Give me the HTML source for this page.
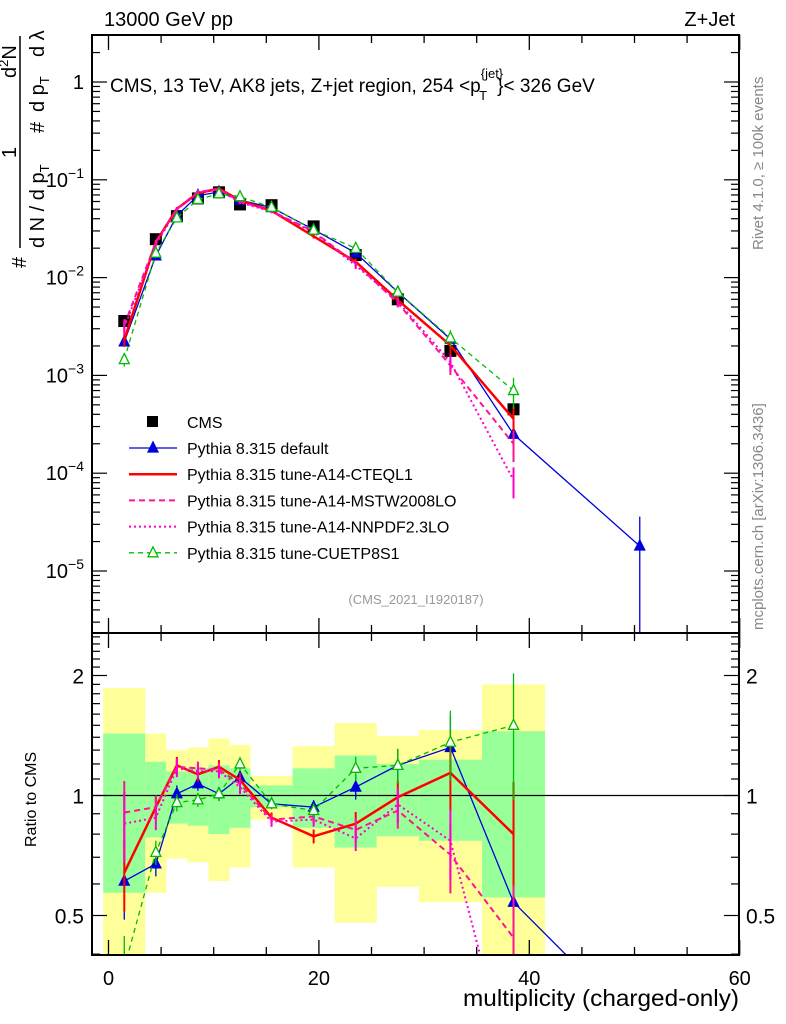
<!DOCTYPE html>
<html><head><meta charset="utf-8"><style>
html,body{margin:0;padding:0;background:#fff;overflow:hidden;width:786px;height:1024px;}
svg{display:block;font-family:"Liberation Sans",sans-serif;}
</style></head><body>
<svg id="chart" width="786" height="1024" viewBox="0 0 786 1024" xmlns="http://www.w3.org/2000/svg">
<defs>
<clipPath id="clipMain"><rect x="92" y="35" width="647" height="598"/></clipPath>
<clipPath id="clipRatio"><rect x="92" y="633" width="647" height="322"/></clipPath>
</defs>
<text x="104" y="26" font-size="20">13000 GeV pp</text>
<text x="735" y="26" font-size="20" text-anchor="end">Z+Jet</text>
<g id="mainG"></g>
<g id="ratioG"></g>
<g id="axesG"></g>
<text x="110" y="92" font-size="19">CMS, 13 TeV, AK8 jets, Z+jet region, 254 &lt;p<tspan font-size="13" dy="-14">{jet}</tspan><tspan font-size="13" dx="-24" dy="22">T</tspan><tspan dy="-8" dx="10">}&lt; 326 GeV</tspan></text>
<g>
  <line x1="20" y1="36" x2="20" y2="248" stroke="#000" stroke-width="1.5"/>
  <text transform="translate(16,78) rotate(-90)" font-size="20">d<tspan font-size="13" dy="-8">2</tspan><tspan dy="8">N</tspan></text>
  <text transform="translate(16,158) rotate(-90)" font-size="20">1</text>
  <text transform="translate(26,268) rotate(-90)" font-size="20">#</text>
  <text transform="translate(44,57) rotate(-90)" font-size="20">d λ</text>
  <text transform="translate(44,112) rotate(-90)" font-size="20">d p<tspan font-size="13" dy="5">T</tspan></text>
  <text transform="translate(44,133) rotate(-90)" font-size="20">#</text>
  <text transform="translate(44,248) rotate(-90)" font-size="20">d N / d p<tspan font-size="13" dy="5">T</tspan></text>
</g>
<text transform="translate(36,847) rotate(-90)" font-size="16">Ratio to CMS</text>
<text x="739" y="1006" font-size="23" text-anchor="end" textLength="276" lengthAdjust="spacingAndGlyphs">multiplicity (charged-only)</text>
<text transform="translate(763,250) rotate(-90)" font-size="15" fill="#888">Rivet 4.1.0, ≥ 100k events</text>
<text transform="translate(763,630) rotate(-90)" font-size="15" fill="#888">mcplots.cern.ch [arXiv:1306.3436]</text>
<text x="416" y="604" font-size="13" fill="#999" text-anchor="middle">(CMS_2021_I1920187)</text>
<g id="legendG"></g>
</svg>
<script>
const xs = [1.5,4.5,6.5,8.5,10.5,12.5,15.5,19.5,23.5,27.5,32.5,38.5,50.5];
const cmsVals = [3.6e-3,0.0247,0.0425,0.0645,0.0745,0.056,0.055,0.0334,0.017,6.0e-3,1.78e-3,4.5e-4,2.0e-6];
const defVals = [2.2e-3,0.0167,0.043,0.069,0.075,0.062,0.052,0.031,0.0179,7.1e-3,2.35e-3,2.5e-4,1.8e-5];
const defErr = [0.08,0.04,0.03,0.03,0.03,0.03,0.03,0.03,0.04,0.05,0.1,0.3,1.0];
const cteqVals = [2.3e-3,0.0231,0.0506,0.0729,0.0815,0.0613,0.0484,0.0264,0.0145,5.9e-3,2.03e-3,3.6e-4];
const mstwVals = [3.26e-3,0.0231,0.0502,0.0755,0.0800,0.060,0.0479,0.0296,0.0139,5.5e-3,1.26e-3,2.0e-4];
const nnpdfVals = [3.06e-3,0.0217,0.0497,0.0742,0.0790,0.0588,0.0473,0.0291,0.0133,5.7e-3,1.37e-3,0.85e-4];
const cuetVals = [1.45e-3,0.0178,0.0408,0.0629,0.0720,0.0672,0.0524,0.0306,0.0199,7.1e-3,2.42e-3,7.0e-4];
const mcErr = [0.15,0.05,0.04,0.04,0.04,0.04,0.04,0.05,0.08,0.1,0.2,0.35];
const binEdges = [-0.5,3.5,5.5,7.5,9.5,11.5,13.5,17.5,21.5,25.5,29.5,35.5,41.5];
const bandYellowHi = [1.86,1.43,1.30,1.32,1.39,1.34,1.12,1.33,1.52,1.41,1.46,1.90];
const bandYellowLo = [0.30,0.57,0.695,0.68,0.61,0.66,0.87,0.66,0.48,0.59,0.54,0.30];
const bandGreenHi = [1.43,1.215,1.15,1.17,1.19,1.17,1.06,1.17,1.26,1.20,1.23,1.45];
const bandGreenLo = [0.57,0.785,0.85,0.84,0.80,0.83,0.935,0.83,0.74,0.79,0.77,0.555];
const rDef = [0.61,0.674,1.01,1.07,1.01,1.11,0.953,0.935,1.05,1.19,1.32,0.54,0.26];
const rCteq = [0.64,0.935,1.19,1.13,1.18,1.095,0.88,0.79,0.85,0.99,1.14,0.80];
const rMstw = [0.906,0.935,1.18,1.17,1.16,1.07,0.87,0.886,0.82,0.917,0.71,0.44];
const rNnpdf = [0.85,0.88,1.17,1.15,1.15,1.05,0.86,0.87,0.78,0.95,0.77,0.19];
const rCuet = [0.37,0.72,0.96,0.975,1.01,1.20,0.953,0.917,1.17,1.19,1.36,1.50];
const rErr = [0.2,0.07,0.05,0.04,0.04,0.04,0.03,0.04,0.07,0.1,0.2,0.35];
const xTicks = [0,20,40,60];
const yMainTicks = [0,-1,-2,-3,-4,-5];
const yRatioTicks = [0.5,1,2];

const NS="http://www.w3.org/2000/svg";
const X = v => 108.5 + v*10.52;
const Y = v => 82 - 97.8*Math.log10(v);
const R = v => 795.5 - 120*Math.log2(v);
function mk(tag, attrs, parent){const e=document.createElementNS(NS,tag);for(const k in attrs)e.setAttribute(k,attrs[k]);parent.appendChild(e);return e;}
const mainG=document.getElementById('mainG'), ratioG=document.getElementById('ratioG'), axesG=document.getElementById('axesG'), legG=document.getElementById('legendG');
mainG.setAttribute('clip-path','url(#clipMain)');
ratioG.setAttribute('clip-path','url(#clipRatio)');

for(let i=0;i<bandYellowHi.length;i++){
  const x0=X(binEdges[i]), x1=X(binEdges[i+1]);
  const y=mk('rect',{x:x0,y:R(bandYellowHi[i]),width:x1-x0,height:R(bandYellowLo[i])-R(bandYellowHi[i]),fill:'#ffff99'},ratioG);
  
  
  const g=mk('rect',{x:x0,y:R(bandGreenHi[i]),width:x1-x0,height:R(bandGreenLo[i])-R(bandGreenHi[i]),fill:'#99ff99'},ratioG);
  
  
}
const one=mk('line',{x1:92,x2:739,y1:R(1),y2:R(1),stroke:'#000','stroke-width':1.2},ratioG);



const series=[
 {name:'default',main:defVals,err:defErr,ratio:rDef,color:'#0000dd',w:1.3,dash:'',marker:'tri'},
 {name:'cteql1',main:cteqVals,err:mcErr,ratio:rCteq,color:'#ff0000',w:2.5,dash:'',marker:''},
 {name:'mstw2008lo',main:mstwVals,err:mcErr,ratio:rMstw,color:'#ff1493',w:2,dash:'6,4',marker:''},
 {name:'nnpdf23lo',main:nnpdfVals,err:mcErr,ratio:rNnpdf,color:'#ff00cc',w:2,dash:'2,3',marker:''},
 {name:'cuetp8s1',main:cuetVals,err:mcErr,ratio:rCuet,color:'#00bb00',w:1.3,dash:'5,4',marker:'otri'}
];
function drawSeries(s,vals,errs,fy,g,pref){
  const pts=vals.map((v,i)=>X(xs[i])+','+fy(v)).join(' ');
  const pl=mk('polyline',{points:pts,fill:'none',stroke:s.color,'stroke-width':s.w,'stroke-dasharray':s.dash},g);
  
  
  vals.forEach((v,i)=>{
    const e=errs[i], x=X(xs[i]);
    const lo=Math.max(v*(1-e),1e-9), hi=v*(1+e);
    const eb=mk('line',{x1:x,x2:x,y1:fy(hi),y2:fy(lo),stroke:s.color,'stroke-width':Math.min(s.w,2)},g);
    
    
    if(s.marker){
      const y=fy(v);
      const m=mk('polygon',{points:`${x-5},${y+4} ${x+5},${y+4} ${x},${y-6}`,fill:s.marker==='tri'?s.color:'#fff',stroke:s.color,'stroke-width':1.3},g);
      
      
    }
  });
}
cmsVals.forEach((v,i)=>{
  const x=X(xs[i]), y=Y(v);
  const eb=mk('line',{x1:x,x2:x,y1:Y(v*1.1),y2:Y(v*0.9),stroke:'#000','stroke-width':1.5},mainG);
  
  
  const m=mk('rect',{x:x-6,y:y-6,width:12,height:12,fill:'#000'},mainG);
  
  
});
series.forEach(s=>{drawSeries(s,s.main,s.err,Y,mainG,'main');});
series.forEach(s=>{drawSeries(s,s.ratio,rErr,R,ratioG,'ratio');});

function frame(y0,y1,name){const f=mk('rect',{x:92,y:y0,width:647,height:y1-y0,fill:'none',stroke:'#000','stroke-width':2},axesG);
 
 }
frame(35,633,'main-frame');frame(633,955,'ratio-frame');
for(let v=0;v<=60;v+=5){
  const x=X(v), L=(v%20===0)?15:8;
  [[35,1],[633,-1],[633,1],[955,-1]].forEach(([y,d])=>mk('line',{x1:x,x2:x,y1:y,y2:y+d*L,stroke:'#000','stroke-width':1.3},axesG));
}
xTicks.forEach(v=>{const t=mk('text',{x:X(v),y:985,'font-size':20,'text-anchor':'middle'},axesG);t.textContent=v;
 
 });
for(let d=-6;d<=0;d++){
  for(let k=1;k<10;k++){
    const y=Y(k*Math.pow(10,d)); if(y<35||y>633) continue;
    const L=k===1?15:8;
    mk('line',{x1:92,x2:92+L,y1:y,y2:y,stroke:'#000','stroke-width':1.2},axesG);
    mk('line',{x1:739,x2:739-L,y1:y,y2:y,stroke:'#000','stroke-width':1.2},axesG);
  }
}
yMainTicks.forEach(d=>{
  const t=mk('text',{x:84,y:Y(Math.pow(10,d))+7,'font-size':20,'text-anchor':'end'},axesG);
  
  
  if(d===0){t.textContent='1';}
  else{t.textContent='10';const s=document.createElementNS(NS,'tspan');s.setAttribute('font-size','14');s.setAttribute('dy','-9');s.textContent='−'+(-d);t.appendChild(s);}
});
for(let r=0.4;r<=2.6;r+=0.1){
  const rr=Math.round(r*10)/10; const y=R(rr); if(y<633||y>955) continue;
  const L=(rr===0.5||rr===1||rr===2)?15:8;
  mk('line',{x1:92,x2:92+L,y1:y,y2:y,stroke:'#000','stroke-width':1.2},axesG);
  mk('line',{x1:739,x2:739-L,y1:y,y2:y,stroke:'#000','stroke-width':1.2},axesG);
}
yRatioTicks.forEach(v=>{
  const t=mk('text',{x:84,y:R(v)+8,'font-size':21,'text-anchor':'end'},axesG);t.textContent=v;
  
  
  const t2=mk('text',{x:746,y:R(v)+8,'font-size':21},axesG);t2.textContent=v;
  
  
});

const legNames=['Pythia 8.315 default','Pythia 8.315 tune-A14-CTEQL1','Pythia 8.315 tune-A14-MSTW2008LO','Pythia 8.315 tune-A14-NNPDF2.3LO','Pythia 8.315 tune-CUETP8S1'];
const cmsM=mk('rect',{x:147,y:416,width:11,height:11,fill:'#000'},legG);


const cmsT=mk('text',{x:187,y:428,'font-size':16},legG);cmsT.textContent='CMS';


series.forEach((s,i)=>{
  const y=448+i*26.2;
  const l=mk('line',{x1:129,x2:177,y1:y,y2:y,stroke:s.color,'stroke-width':s.w,'stroke-dasharray':s.dash},legG);
  
  
  if(s.marker){const m=mk('polygon',{points:`148,${y+4} 158,${y+4} 153,${y-6}`,fill:s.marker==='tri'?s.color:'#fff',stroke:s.color,'stroke-width':1.3},legG);
   
   }
  const t=mk('text',{x:187,y:y+6,'font-size':16},legG);t.textContent=legNames[i];
  
  
});
</script>
</body></html>
